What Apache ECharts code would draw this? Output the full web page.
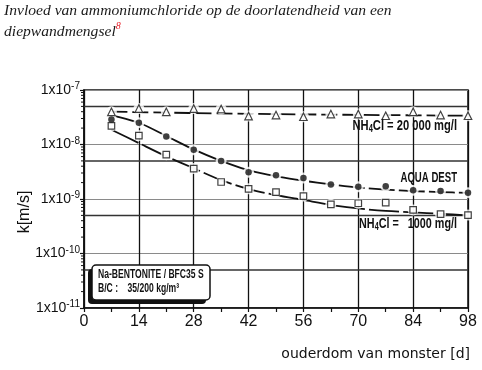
<!DOCTYPE html>
<html>
<head>
<meta charset="utf-8">
<script src="https://cdn.jsdelivr.net/npm/echarts@6/dist/echarts.min.js"></script>
<style>
html,body{margin:0;padding:0;background:#fff;}
#chart{width:482px;height:370px;}
</style>
</head>
<body>
<div id="chart"></div>
<script>
// ---- data ----
const days = [7, 14, 21, 28, 35, 42, 49, 56, 63, 70, 77, 84, 91, 98];
const kNH4Cl20000 = [3.98e-8, 4.57e-8, 3.98e-8, 4.57e-8, 4.48e-8, 3.33e-8, 3.47e-8, 3.23e-8, 3.62e-8, 3.62e-8, 3.37e-8, 3.98e-8, 3.47e-8, 3.37e-8];
const kAquaDest = [2.88e-8, 2.51e-8, 1.40e-8, 8.0e-9, 4.99e-9, 3.10e-9, 2.73e-9, 2.44e-9, 1.85e-9, 1.67e-9, 1.72e-9, 1.44e-9, 1.40e-9, 1.30e-9];
const kNH4Cl1000 = [2.19e-8, 1.46e-8, 6.5e-9, 3.61e-9, 2.05e-9, 1.54e-9, 1.34e-9, 1.13e-9, 8.0e-10, 8.35e-10, 8.6e-10, 6.3e-10, 5.27e-10, 5.06e-10];

// fitted curves
const fit20000Days = [7, 42, 98];
const fit20000 = [4.0e-8, 3.65e-8, 3.37e-8];
const fitAquaDest = [3.44e-8, 2.51e-8, 1.43e-8, 8.1e-9, 5.0e-9, 3.37e-9, 2.62e-9, 2.17e-9, 1.85e-9, 1.62e-9, 1.49e-9, 1.40e-9, 1.34e-9, 1.29e-9];
const fit1000 = [1.87e-8, 1.06e-8, 6.05e-9, 3.66e-9, 2.22e-9, 1.52e-9, 1.18e-9, 9.6e-10, 7.8e-10, 6.7e-10, 6.05e-10, 5.68e-10, 5.34e-10, 5.0e-10];

// axis tick values
const xTicks = [0, 14, 28, 42, 56, 70, 84, 98];
const yDecades = [1e-11, 1e-10, 1e-9, 1e-8, 1e-7];
const midLines = [5e-8, 5e-9, 5e-10, 5e-11];

const titleLine1 = 'Invloed van ammoniumchloride op de doorlatendheid van een';
const titleLine2 = 'diepwandmengsel';
const titleNote = '8';
const xName = 'ouderdom van monster [d]';
const yName = 'k[m/s]';
const boxLines = ['Na-BENTONITE / BFC35 S', 'B/C :    35/200 kg/m³'];
const curveLabels = [['NH', '4', 'Cl = 20 000 mg/l'], ['AQUA DEST'], ['NH', '4', 'Cl =   1000 mg/l']];

// ---- build ----
const SANS = "'Liberation Sans','DejaVu Sans',sans-serif";
const pairs = (xs, ys) => xs.map((x, i) => [x, ys[i]]);

const minorY = [];
for (let d = 0; d < yDecades.length - 1; d++) {
  for (let m = 2; m <= 9; m++) minorY.push([0, yDecades[d] * m]);
}

const chart = echarts.init(document.getElementById('chart'), null, {renderer: 'canvas'});

const halo = (data) => ({
  type: 'scatter', data, symbol: 'circle', symbolSize: 11, z: 3, silent: true,
  itemStyle: {color: '#fff'}
});

const richLabel = (parts) => parts.length === 1 ? '{a|' + parts[0] + '}'
  : '{a|' + parts[0] + '}{u|' + parts[1] + '}{a|' + parts[2] + '}';
const labelRich = {
  a: {fontFamily: SANS, fontSize: 15, fontWeight: 'bold', lineHeight: 17, fill: '#111'},
  u: {fontFamily: SANS, fontSize: 10, fontWeight: 'bold', lineHeight: 17, verticalAlign: 'bottom', fill: '#111'}
};
const narrowText = (x, y, text, align, sx) => ({
  type: 'text', x, y, scaleX: sx, z: 102, silent: true,
  style: {text, align, verticalAlign: 'middle', rich: labelRich, fill: '#111'}
});

const option = {
  backgroundColor: '#fff',
  animation: false,
  title: {
    left: 4, top: 0, padding: 0,
    text: titleLine1 + '\n' + titleLine2 + '{sup|' + titleNote + '}',
    textStyle: {
      fontFamily: "'Liberation Serif',serif", fontStyle: 'italic', fontWeight: 'normal',
      fontSize: 15.6, lineHeight: 21, color: '#1a1a1a',
      rich: {sup: {fontSize: 10, color: '#e8202a', verticalAlign: 'top', lineHeight: 16,
        fontFamily: "'Liberation Serif',serif", fontStyle: 'italic'}}
    }
  },
  grid: {left: 84, right: 14, top: 90, bottom: 62, show: true, borderColor: '#111', borderWidth: 1.5, backgroundColor: 'transparent'},
  xAxis: {
    type: 'value', min: 0, max: 98, interval: 14,
    axisLine: {lineStyle: {color: '#111', width: 1.5}},
    axisTick: {show: true, length: 4, lineStyle: {color: '#111', width: 1.2}},
    minorTick: {show: true, splitNumber: 2, length: 4, lineStyle: {color: '#111', width: 1.2}},
    splitLine: {show: true, lineStyle: {color: '#111', width: 1.3}},
    axisLabel: {margin: 6, fontFamily: SANS, fontSize: 16, color: '#111'},
    name: xName, nameLocation: 'end', nameGap: 2, nameMoveOverlap: false,
    nameTextStyle: {fontFamily: "'DejaVu Sans',sans-serif", fontSize: 14, color: '#111',
      align: 'right', verticalAlign: 'top', padding: [39, 0, 0, 0]}
  },
  yAxis: {
    type: 'log', logBase: 10, min: 1e-11, max: 1e-7, interval: 1,
    axisLine: {show: true, lineStyle: {color: '#111', width: 1.5}},
    axisTick: {show: true, length: 4, lineStyle: {color: '#111', width: 1.2}},
    splitLine: {show: true, lineStyle: {color: '#8a8a8a', width: 1.2}},
    axisLabel: {
      margin: 4, color: '#111',
      formatter: (v) => '{b|1x10}{s|' + Math.round(Math.log10(v)) + '}',
      rich: {
        b: {fontFamily: SANS, fontSize: 14, lineHeight: 17, verticalAlign: 'middle'},
        s: {fontFamily: SANS, fontSize: 10, lineHeight: 17, verticalAlign: 'top'}
      }
    },
    name: yName, nameLocation: 'middle', nameGap: 51, nameRotate: 90, nameMoveOverlap: false,
    nameTextStyle: {fontFamily: SANS, fontSize: 16, color: '#111', padding: [0, 26, 0, 0]}
  },
  series: [
    {
      // 5x grid lines
      type: 'custom', silent: true, clip: false, z: 1,
      data: midLines.map(v => [0, v]), encode: {x: 0, y: 1},
      renderItem: (params, api) => {
        const p = api.coord([0, api.value(1)]);
        const cs = params.coordSys;
        return {type: 'line', shape: {x1: cs.x, y1: p[1], x2: cs.x + cs.width, y2: p[1]},
          style: {stroke: '#333', lineWidth: 1.5}};
      }
    },
    {
      // y minor ticks
      type: 'custom', silent: true, clip: false, z: 5,
      data: minorY, encode: {x: 0, y: 1},
      renderItem: (params, api) => {
        const p = api.coord([0, api.value(1)]);
        return {type: 'line', shape: {x1: p[0] - 3, y1: p[1], x2: p[0], y2: p[1]},
          style: {stroke: '#111', lineWidth: 1}};
      }
    },
    {
      type: 'line', data: pairs(fit20000Days, fit20000), smooth: 0.3, showSymbol: false, silent: true, z: 2,
      lineStyle: {color: '#111', width: 1.8, type: [16, 5]}
    },
    {
      type: 'line', data: pairs(days, fitAquaDest), smooth: 0.3, showSymbol: false, silent: true, z: 2,
      lineStyle: {color: '#111', width: 1.8, type: [26, 4]}
    },
    {
      type: 'line', data: pairs(days, fit1000), smooth: 0.3, showSymbol: false, silent: true, z: 2,
      lineStyle: {color: '#111', width: 1.8, type: [30, 4]}
    },
    halo(pairs(days, kNH4Cl20000)),
    halo(pairs(days, kAquaDest)),
    halo(pairs(days, kNH4Cl1000)),
    {
      type: 'scatter', data: pairs(days, kNH4Cl20000), symbol: 'triangle', symbolSize: 7.5, z: 4,
      itemStyle: {color: '#fff', borderColor: '#111', borderWidth: 1.2}
    },
    {
      type: 'scatter', data: pairs(days, kAquaDest), symbol: 'circle', symbolSize: 6.5, z: 4,
      itemStyle: {color: '#111'}
    },
    {
      type: 'scatter', data: pairs(days, kNH4Cl1000), symbol: 'rect', symbolSize: 6.5, z: 4,
      itemStyle: {color: '#fff', borderColor: '#111', borderWidth: 1.2}
    }
  ],
  graphic: [
    narrowText(457, 126, richLabel(curveLabels[0]), 'right', 0.745),
    narrowText(457, 178, richLabel(curveLabels[1]), 'right', 0.64),
    narrowText(457, 224, richLabel(curveLabels[2]), 'right', 0.72),
    {type: 'rect', z: 100, silent: true, shape: {x: 88, y: 269, width: 118, height: 35, r: 4}, style: {fill: '#111'}},
    {type: 'rect', z: 101, silent: true, shape: {x: 92, y: 265, width: 118, height: 35, r: 4},
      style: {fill: '#fff', stroke: '#111', lineWidth: 1.5}},
    {type: 'text', z: 102, x: 98, y: 274, scaleX: 0.66, silent: true,
      style: {text: boxLines[0], fill: '#111', font: 'bold 13px ' + SANS, verticalAlign: 'middle'}},
    {type: 'text', z: 102, x: 98, y: 288, scaleX: 0.66, silent: true,
      style: {text: boxLines[1], fill: '#111', font: 'bold 13px ' + SANS, verticalAlign: 'middle'}}
  ]
};
chart.setOption(option);
</script>
</body>
</html>
